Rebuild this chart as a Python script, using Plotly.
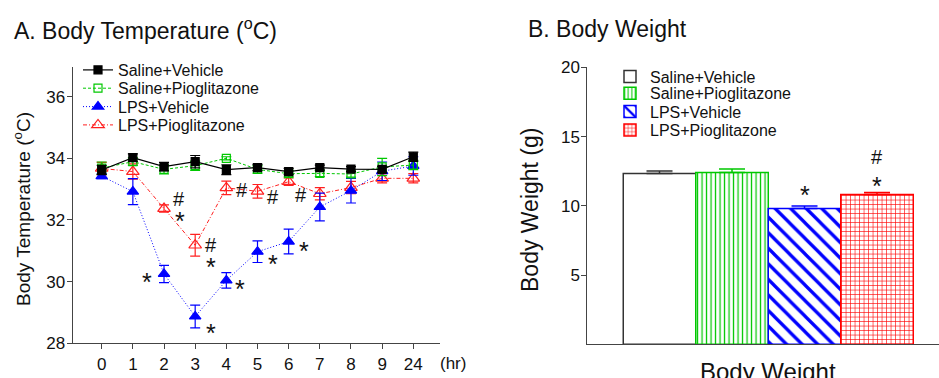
import plotly.graph_objects as go

W, H = 939, 378
FONT = "Arial, Liberation Sans, sans-serif"

# ---------------- data: panel A ----------------
time_labels = ["0", "1", "2", "3", "4", "5", "6", "7", "8", "9", "24"]
time_idx = list(range(len(time_labels)))

sv_temp = [33.62, 34.02, 33.73, 33.89, 33.63, 33.70, 33.57, 33.70, 33.65, 33.64, 34.05]
sv_err = [0.15, 0.12, 0.14, 0.2, 0.16, 0.1, 0.1, 0.08, 0.08, 0.1, 0.15]
sp_temp = [33.68, 33.89, 33.64, 33.76, 34.00, 33.64, 33.50, 33.51, 33.49, 33.72, 33.78]
sp_err = [0.2, 0.12, 0.15, 0.15, 0.05, 0.12, 0.1, 0.1, 0.1, 0.28, 0.15]
lv_temp = [33.42, 32.92, 30.25, 28.87, 30.04, 30.97, 31.30, 32.42, 32.95, 33.58, 33.75]
lv_err = [0.08, 0.42, 0.28, 0.37, 0.25, 0.35, 0.4, 0.45, 0.4, 0.3, 0.3]
lp_temp = [33.67, 33.57, 32.37, 31.18, 33.04, 32.93, 33.24, 32.85, 33.05, 33.35, 33.35]
lp_err = [0.2, 0.25, 0.12, 0.35, 0.22, 0.22, 0.12, 0.2, 0.2, 0.15, 0.15]

sigA_x = [2.48, 2.5, 3.52, 3.52, 4.5, 5.5, 6.4, 1.46, 3.52, 4.45, 5.5, 6.48]
sigA_y = [32.70, 32.18, 31.23, 30.69, 33.02, 32.78, 32.83, 30.23, 28.57, 29.98, 30.80, 31.23]
sigA_t = ["#", "*", "#", "*", "#", "#", "#", "*", "*", "*", "*", "*"]

# ---------------- data: panel B ----------------
groups = ["Saline+Vehicle", "Saline+Pioglitazone", "LPS+Vehicle", "LPS+Pioglitazone"]
weight = [12.33, 12.40, 9.81, 10.82]
weight_err = [0.19, 0.26, 0.18, 0.14]

sigB_x = [2, 3, 3]
sigB_y = [11.25, 11.97, 13.58]
sigB_t = ["*", "*", "#"]


def px_x(p):
    return p / W


def px_y(p):
    return 1 - p / H


fig = go.Figure()

# ---------- Panel A traces ----------
seriesA = [
    ("LPS+Pioglitazone", lp_temp, lp_err, "#ff2020", "triangle-up-open", 11, "4px,2px,1px,2px", 1.0, "legend4"),
    ("LPS+Vehicle", lv_temp, lv_err, "#0000ff", "triangle-up", 10, "1px,2px", 1.0, "legend3"),
    ("Saline+Pioglitazone", sp_temp, sp_err, "#00c800", "square-open", 8, "3px,2px", 1.0, "legend2"),
    ("Saline+Vehicle", sv_temp, sv_err, "#000000", "square", 8, "solid", 1.2, "legend"),
]
for name, ys, es, col, sym, ms, dash, lw, leg in seriesA:
    fig.add_trace(go.Scatter(
        x=time_idx, y=ys, name=name, mode="lines+markers",
        line=dict(color=col, width=lw, dash=dash),
        marker=dict(symbol=sym, size=ms, color=col, line=dict(color=col, width=1.2)),
        error_y=dict(type="data", array=es, color=col, thickness=1.2, width=5),
        xaxis="x", yaxis="y", legend=leg,
    ))

# ---------- Panel B traces ----------
bar_styles = [
    ("#333333", "", 8, 0.2, "legend5"),
    ("#00c800", "|", 4.5, 0.28, "legend6"),
    ("#0000ff", "\\", 11, 0.3, "legend7"),
    ("#ff0000", "+", 4.5, 0.25, "legend8"),
]
for i, (g, v, e) in enumerate(zip(groups, weight, weight_err)):
    col, shape, sz, sol, leg = bar_styles[i]
    fig.add_trace(go.Bar(
        x=[i], y=[v], name=g, width=1,
        marker=dict(color="white", line=dict(color=col, width=1.5),
                    pattern=dict(shape=shape, fgcolor=col, bgcolor="white",
                                 size=sz, solidity=sol, fillmode="replace")),
        error_y=dict(type="data", array=[e], arrayminus=[0], symmetric=False,
                     color=col, thickness=1.5, width=13),
        xaxis="x2", yaxis="y2", legend=leg,
    ))

# ---------- annotations ----------
ann = []
for x, y, t in zip(sigA_x, sigA_y, sigA_t):
    star = t == "*"
    ann.append(dict(x=x, y=y, xref="x", yref="y", text=t, showarrow=False,
                    font=dict(family=FONT, size=25 if star else 20, color="#111"),
                    yshift=-7 if star else -1))
for x, y, t in zip(sigB_x, sigB_y, sigB_t):
    star = t == "*"
    ann.append(dict(x=x, y=y, xref="x2", yref="y2", text=t, showarrow=False,
                    font=dict(family=FONT, size=25 if star else 20, color="#111"),
                    yshift=-7 if star else -1))

# titles and axis labels
ann += [
    dict(x=px_x(12), y=px_y(29), xref="paper", yref="paper", xanchor="left", yanchor="middle",
         text="A. Body Temperature (<sup>o</sup>C)", showarrow=False,
         font=dict(family=FONT, size=23, color="#111")),
    dict(x=px_x(526), y=px_y(29), xref="paper", yref="paper", xanchor="left", yanchor="middle",
         text="B. Body Weight", showarrow=False, font=dict(family=FONT, size=23, color="#111")),
    dict(x=px_x(22), y=px_y(209), xref="paper", yref="paper", xanchor="center", yanchor="middle",
         text="Body Temperature (<sup>o</sup>C)", textangle=-90, showarrow=False,
         font=dict(family=FONT, size=19, color="#111")),
    dict(x=px_x(530), y=px_y(210), xref="paper", yref="paper", xanchor="center", yanchor="middle",
         text="Body Weight (g)", textangle=-90, showarrow=False,
         font=dict(family=FONT, size=23, color="#111")),
    dict(x=px_x(453), y=px_y(363), xref="paper", yref="paper", xanchor="center", yanchor="middle",
         text="(hr)", showarrow=False, font=dict(family=FONT, size=17, color="#111")),
    dict(x=px_x(768), y=px_y(371), xref="paper", yref="paper", xanchor="center", yanchor="middle",
         text="Body Weight", showarrow=False, font=dict(family=FONT, size=24, color="#111")),
]

axis_common = dict(showgrid=False, zeroline=False, showline=True, linecolor="#444", linewidth=1,
                   ticks="outside", ticklen=5, tickcolor="#444", tickwidth=1, automargin=False,
                   tickfont=dict(family=FONT, size=17, color="#111"))

legend_common = dict(bgcolor="rgba(0,0,0,0)", borderwidth=0, xanchor="left", yanchor="middle",
                     font=dict(family=FONT, size=16, color="#111"))
leg_rows_A = [70, 88.3, 106.7, 125]
leg_rows_B = [76.7, 93.3, 111.7, 130]

layout_legends = {}
for key, yy in zip(["legend", "legend2", "legend3", "legend4"], leg_rows_A):
    layout_legends[key] = dict(legend_common, x=px_x(78), y=px_y(yy))
for key, yy in zip(["legend5", "legend6", "legend7", "legend8"], leg_rows_B):
    layout_legends[key] = dict(legend_common, x=px_x(610), y=px_y(yy))

fig.update_layout(
    width=W, height=H, autosize=False,
    margin=dict(l=0, r=0, t=0, b=0, pad=0, autoexpand=False),
    paper_bgcolor="white", plot_bgcolor="white",
    barmode="overlay", showlegend=True,
    xaxis=dict(axis_common, domain=[px_x(72.5), px_x(440)], range=[-0.937, 10.857],
               tickvals=time_idx, ticktext=time_labels, anchor="y", ticklabelstandoff=0),
    yaxis=dict(axis_common, domain=[px_y(343.3), px_y(66.7)], range=[28, 36.97],
               tickvals=[28, 30, 32, 34, 36], anchor="x", ticklabelstandoff=-2),
    xaxis2=dict(axis_common, domain=[px_x(587.3), 1.0], range=[-0.996, 3.855],
                showticklabels=False, ticks="", anchor="y2"),
    yaxis2=dict(axis_common, domain=[px_y(344.3), px_y(67.3)], range=[0, 20],
                tickvals=[5, 10, 15, 20], anchor="x2", ticklabelstandoff=-2),
    annotations=ann,
    **layout_legends,
)

fig.write_html(
    "out.html",
    config={"displayModeBar": False},
    post_script="document.body.style.margin='0';document.body.style.overflow='hidden';",
)
